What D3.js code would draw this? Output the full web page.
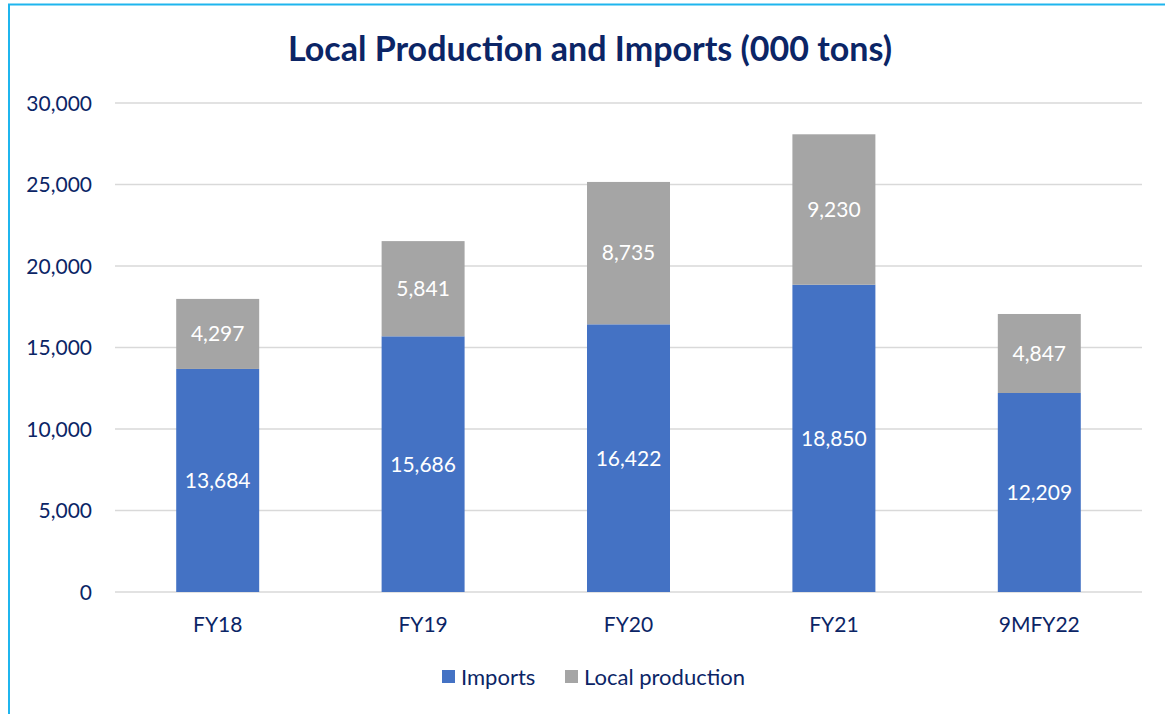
<!DOCTYPE html>
<html>
<head>
<meta charset="utf-8">
<script src="https://cdn.jsdelivr.net/npm/d3@7"></script>
<style>
  html, body { margin: 0; padding: 0; background: #fff; }
  svg { display: block; font-family: Lato, "Open Sans", sans-serif; }
</style>
</head>
<body>
<svg id="chart" width="1165" height="714"></svg>
<script>
const categories = ["FY18", "FY19", "FY20", "FY21", "9MFY22"];
const imports = [13684, 15686, 16422, 18850, 12209];
const localProduction = [4297, 5841, 8735, 9230, 4847];
const yTicks = [0, 5000, 10000, 15000, 20000, 25000, 30000];
const seriesNames = ["Imports", "Local production"];

const navy = "#0b2566";
const fontFamily = "Lato, 'Open Sans', sans-serif";
const colors = { "Imports": "#4472c4", "Local production": "#a5a5a5" };

const svg = d3.select("#chart");

// frame
svg.append("path")
  .attr("d", "M9,714 V4.5 H1165")
  .attr("fill", "none")
  .attr("stroke", "#1fb5ee")
  .attr("stroke-width", 2);

const margin = { left: 115, right: 1142, top: 103, bottom: 592 };

const x = d3.scaleBand()
  .domain(categories)
  .range([margin.left, margin.right])
  .paddingInner(0.596)
  .paddingOuter(0.298);

const y = d3.scaleLinear()
  .domain([0, 30000])
  .range([margin.bottom, margin.top]);

// gridlines
svg.append("g")
  .selectAll("line")
  .data(yTicks)
  .join("line")
  .attr("x1", margin.left)
  .attr("x2", margin.right)
  .attr("y1", d => y(d))
  .attr("y2", d => y(d))
  .attr("stroke", "#d9d9d9")
  .attr("stroke-width", 1.5);

// y axis labels
const yAxis = d3.axisLeft(y)
  .tickValues(yTicks)
  .tickSize(0)
  .tickPadding(0)
  .tickFormat(d3.format(","));
const yg = svg.append("g")
  .attr("transform", `translate(${92},0)`)
  .call(yAxis)
  .attr("font-family", fontFamily);
yg.select(".domain").remove();
yg.selectAll("text")
  .attr("fill", navy)
  .attr("font-size", 21)
  .attr("dy", "0.35em");

// x axis labels
const xAxis = d3.axisBottom(x).tickSize(0).tickPadding(0);
const xg = svg.append("g")
  .attr("transform", `translate(0,${625})`)
  .call(xAxis)
  .attr("font-family", fontFamily);
xg.select(".domain").remove();
xg.selectAll("text")
  .attr("fill", navy)
  .attr("font-size", 21)
  .attr("dy", "0.35em");

// stacked bars
const rows = categories.map((c, i) => ({
  cat: c,
  "Imports": imports[i],
  "Local production": localProduction[i]
}));
const stack = d3.stack().keys(seriesNames)(rows);

const layers = svg.append("g")
  .selectAll("g")
  .data(stack)
  .join("g")
  .attr("fill", d => colors[d.key]);

layers.selectAll("rect")
  .data(d => d)
  .join("rect")
  .attr("x", d => x(d.data.cat))
  .attr("width", x.bandwidth())
  .attr("y", d => y(d[1]))
  .attr("height", d => y(d[0]) - y(d[1]));

// value labels
layers.selectAll("text")
  .data(d => d.map(v => ({ v, key: d.key })))
  .join("text")
  .attr("x", d => x(d.v.data.cat) + x.bandwidth() / 2)
  .attr("y", d => (y(d.v[0]) + y(d.v[1])) / 2)
  .attr("dy", "0.35em")
  .attr("text-anchor", "middle")
  .attr("fill", "#fff")
  .attr("font-size", 21)
  .text(d => d3.format(",")(d.v.data[d.key]));

// title
svg.append("text")
  .attr("x", 590)
  .attr("y", 49)
  .attr("dy", "0.35em")
  .attr("text-anchor", "middle")
  .attr("fill", navy)
  .attr("font-size", 34)
  .attr("font-weight", "bold")
  .text("Local Production and Imports (000 tons)");

// legend
const legend = svg.append("g");
const legendItems = [
  { name: "Imports", x: 442 },
  { name: "Local production", x: 565 }
];
legendItems.forEach(it => {
  legend.append("rect")
    .attr("x", it.x)
    .attr("y", 670)
    .attr("width", 13)
    .attr("height", 13)
    .attr("fill", colors[it.name]);
  legend.append("text")
    .attr("x", it.x + 19)
    .attr("y", 677)
    .attr("dy", "0.35em")
    .attr("fill", navy)
    .attr("font-size", 22)
    .text(it.name);
});
</script>
</body>
</html>
